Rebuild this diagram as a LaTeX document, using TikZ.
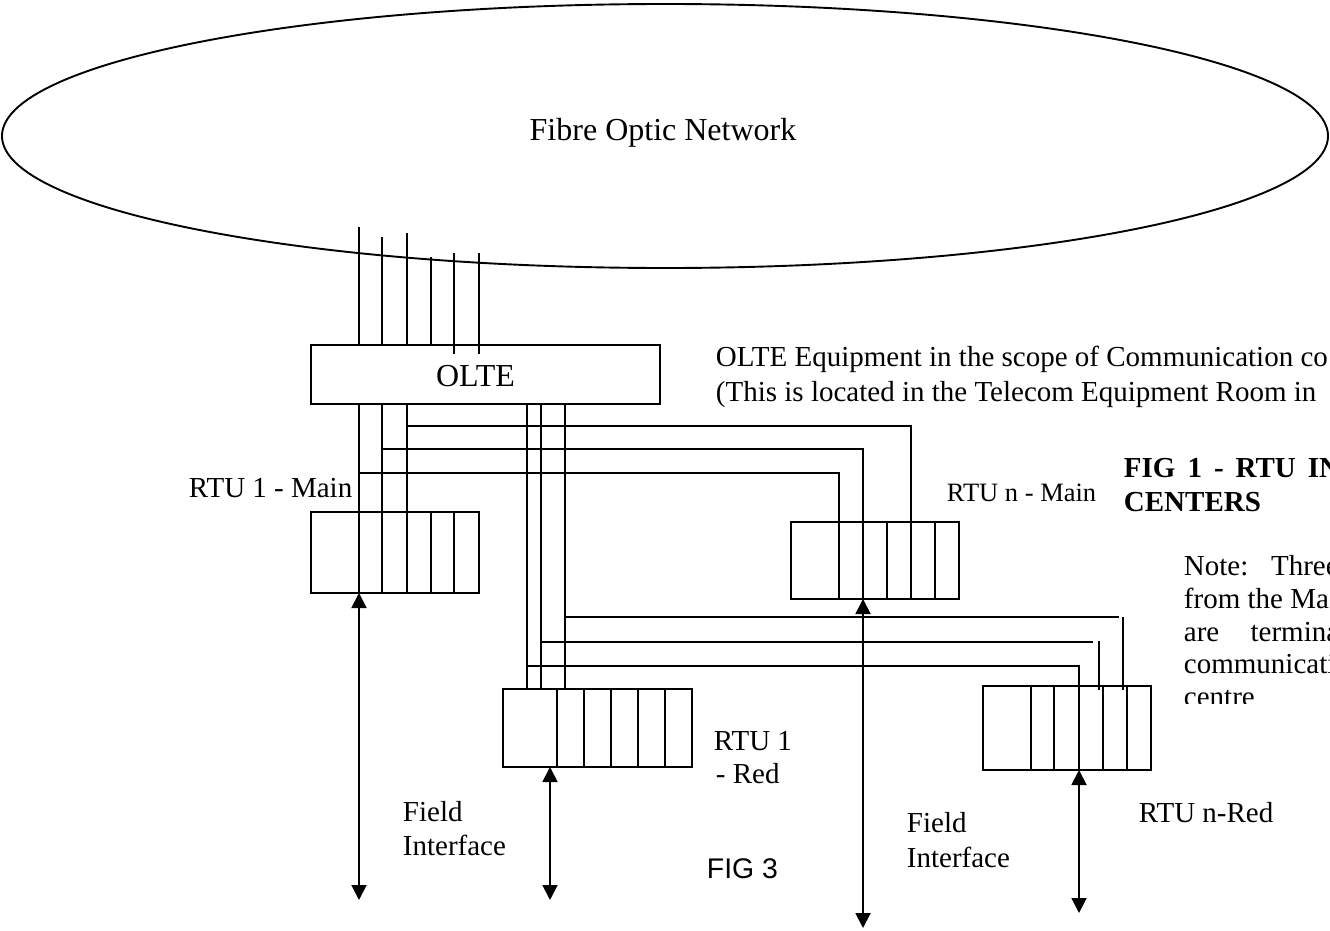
\documentclass[tikz,border=0pt]{standalone}
\usepackage{fontspec}
\setmainfont{Liberation Serif}
\newfontfamily\sansfig{Liberation Sans}
\usetikzlibrary{arrows.meta,shapes.geometric}
\begin{document}
\begin{tikzpicture}[x=1pt,y=-1pt,line width=1.9pt,
  box/.style={draw,rectangle,inner sep=0pt,outer sep=0pt,anchor=north west},
  big/.style={inner sep=0pt,font=\fontsize{32}{38}\selectfont},
  mid/.style={inner sep=0pt,anchor=base west,font=\fontsize{29}{34}\selectfont},
  small/.style={inner sep=0pt,anchor=base west,font=\fontsize{26.5}{31}\selectfont},
  boldlbl/.style={inner sep=0pt,anchor=base west,font=\bfseries\fontsize{29}{34}\selectfont},
  figlbl/.style={inner sep=0pt,anchor=base west,font=\sansfig\fontsize{28.4}{34}\selectfont},
  fieldarrow/.style={{Triangle[length=15pt,width=15pt]}-{Triangle[length=15pt,width=15pt]}},
]
\clip (0,0) rectangle (1330,931);

% fibre optic network
\node[draw,ellipse,inner sep=0pt,outer sep=0pt,minimum width=1326pt,minimum height=264pt] (net) at (665,136) {};
\node[big,anchor=base] (nettxt) at (663,140) {Fibre Optic Network};

% equipment boxes
\node[box,minimum width=349pt,minimum height=59pt] (olte) at (311,345) {};
\node[big,anchor=base] (oltetxt) at (475.5,386) {OLTE};
\node[box,minimum width=168pt,minimum height=81pt] (rtuAm) at (311,512) {};
\node[box,minimum width=168pt,minimum height=77pt] (rtuNm) at (791,522) {};
\node[box,minimum width=189pt,minimum height=78pt] (rtuAr) at (503,689) {};
\node[box,minimum width=168pt,minimum height=84pt] (rtuNr) at (983,686) {};

% fibres from the network into the OLTE
\foreach \x/\t in {359/227,382/237,407/233,431/257}
  \draw (\x,\t) coordinate (f\x) -- (\x,0 |- olte.north);
\foreach \x/\t in {454/253,479/253}
  \draw (\x,\t) coordinate (f\x) -- (\x,354);

% card dividers
\foreach \x in {431,454} \draw (\x,0 |- rtuAm.north) -- (\x,0 |- rtuAm.south);
\foreach \x in {887,935} \draw (\x,0 |- rtuNm.north) -- (\x,0 |- rtuNm.south);
\foreach \x in {557,584,611,638,665} \draw (\x,0 |- rtuAr.north) -- (\x,0 |- rtuAr.south);
\foreach \x in {1031,1054,1103,1127} \draw (\x,0 |- rtuNr.north) -- (\x,0 |- rtuNr.south);

% OLTE to RTU 1 - Main
\foreach \x in {359,382,407} \draw (\x,0 |- olte.south) -- (\x,0 |- rtuAm.south);
% OLTE to RTU n - Main
\draw (407,426) -- (911,426) -- (911,0 |- rtuNm.south);
\draw (382,449) -- (863,449) -- (863,0 |- rtuNm.south);
\draw (359,473) -- (839,473) -- (839,0 |- rtuNm.south);

% OLTE to RTU 1 - Red
\foreach \x in {527,541,565} \draw (\x,0 |- olte.south) -- (\x,0 |- rtuAr.north);
% OLTE to RTU n - Red
\draw (565,617) -- (1119,617);
\draw (1123,617) -- (1123,690);
\draw (541,642) -- (1093,642);
\draw (1099,641) -- (1099,690);
\draw (527,666) -- (1079,666) -- (1079,0 |- rtuNr.south);

% field interface arrows
\coordinate (fa1) at (359,900);
\coordinate (fa2) at (550,900);
\coordinate (fa3) at (863,928);
\coordinate (fa4) at (1079,913);
\draw[fieldarrow] (359,0 |- rtuAm.south) -- (fa1);
\draw[fieldarrow] (550,0 |- rtuAr.south) -- (fa2);
\draw[fieldarrow] (863,0 |- rtuNm.south) -- (fa3);
\draw[fieldarrow] (1079,0 |- rtuNr.south) -- (fa4);

% labels
\node[mid] (lAm) at (188,497) {RTU 1 - Main};
\node[small] (lNm) at (946,501) {RTU n - Main};
\node[mid] (lAr1) at (713,750) {RTU 1};
\node[mid] (lAr2) at (715,783) {- Red};
\node[mid] (lNr) at (1138,822) {RTU n-Red};
\node[mid] (fi1a) at (402,821) {Field};
\node[mid] (fi1b) at (402,855) {Interface};
\node[mid] (fi2a) at (906,832) {Field};
\node[mid] (fi2b) at (906,867) {Interface};
\node[figlbl] (fig3) at (706,878) {FIG 3};

\node[mid] (eq1) at (715,366) {OLTE Equipment in the scope of Communication co};
\node[mid] (eq2) at (715,401) {(This is located in the Telecom Equipment Room in};

\node[boldlbl] (fig1a) at (1123,477) {\spaceskip=12pt\relax FIG 1 - RTU IN};
\node[boldlbl] (fig1b) at (1123,511) {CENTERS};

\begin{scope}
  \clip (1170,540) rectangle (1330,703);
  \node[mid] (n1) at (1183,575) {Note: \hspace{13pt}Three};
  \node[mid] (n2) at (1183,608) {from the Ma};
  \node[mid] (n3) at (1183,641) {are \hspace{24pt}termina};
  \node[mid] (n4) at (1183,673) {communicati};
  \node[mid] (n5) at (1183,706) {centre};
\end{scope}
\end{tikzpicture}
\end{document}
